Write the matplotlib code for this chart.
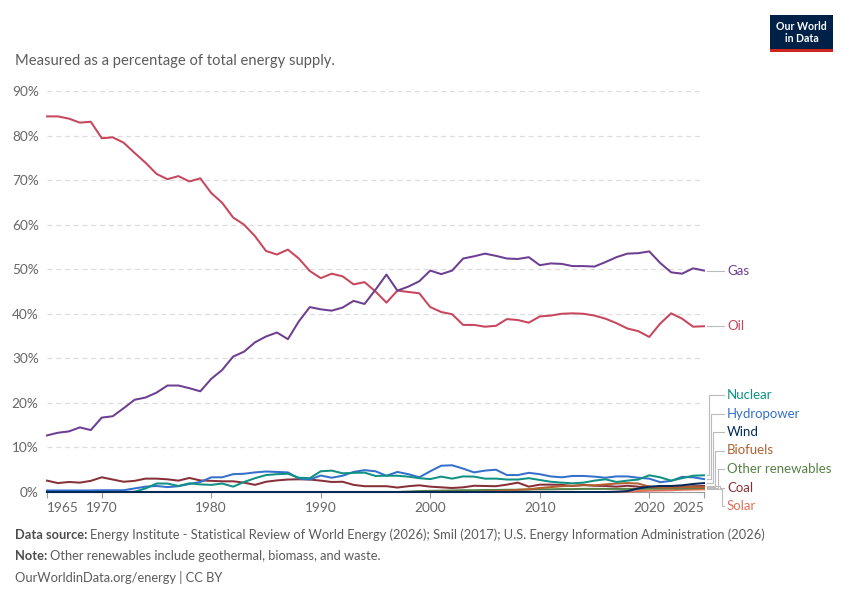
import matplotlib
matplotlib.use("Agg")
import matplotlib.pyplot as plt
from matplotlib.lines import Line2D
from matplotlib.patches import Rectangle

plt.rcParams['font.family'] = ['Lato', 'DejaVu Sans']

years = list(range(1965, 2026))

gas = [12.7, 13.3, 13.6, 14.5, 13.9, 16.7, 17.0, 18.8, 20.7, 21.2,
       22.3, 23.9, 23.9, 23.3, 22.6, 25.4, 27.4, 30.4, 31.5, 33.6,
       34.9, 35.8, 34.3, 38.3, 41.5, 41.0, 40.7, 41.4, 42.9, 42.2,
       45.4, 48.8, 45.2, 46.1, 47.3, 49.7, 48.9, 49.7, 52.4, 52.9,
       53.5, 53.0, 52.4, 52.3, 52.7, 50.9, 51.3, 51.2, 50.7, 50.7,
       50.6, 51.6, 52.7, 53.5, 53.6, 54.0, 51.4, 49.3, 49.0, 50.2, 49.7]

oil = [84.3, 84.3, 83.8, 82.9, 83.1, 79.4, 79.6, 78.4, 76.1, 73.9,
       71.4, 70.2, 70.9, 69.7, 70.4, 67.1, 64.9, 61.6, 60.0, 57.4,
       54.1, 53.3, 54.4, 52.4, 49.6, 48.0, 49.0, 48.4, 46.6, 47.1,
       45.0, 42.5, 45.2, 44.9, 44.6, 41.5, 40.4, 39.9, 37.5, 37.5,
       37.1, 37.3, 38.8, 38.6, 38.0, 39.4, 39.6, 40.0, 40.1, 40.0,
       39.6, 38.9, 37.9, 36.7, 36.1, 34.8, 37.8, 40.1, 38.9, 37.1, 37.2]

nuclear = [0, 0, 0, 0, 0, 0, 0, 0, 0.05, 0.8,
           1.9, 1.9, 1.35, 1.95, 1.7, 1.6, 1.9, 1.2, 2.25, 3.1,
           3.8, 4.0, 4.1, 3.2, 3.1, 4.65, 4.8, 4.2, 4.3, 4.35,
           3.6, 3.65, 3.65, 3.45, 3.1, 2.9, 3.45, 3.0, 3.5, 3.45,
           3.0, 3.0, 2.8, 2.8, 3.1, 2.7, 2.3, 2.1, 1.95, 2.1,
           2.55, 2.85, 2.25, 2.55, 2.8, 3.75, 3.3, 2.55, 3.1, 3.65, 3.75]

hydropower = [0.35, 0.35, 0.35, 0.35, 0.35, 0.4, 0.4, 0.4, 0.8, 1.2,
              1.35, 1.1, 1.3, 1.8, 2.25, 3.3, 3.3, 4.0, 4.1, 4.4,
              4.6, 4.5, 4.4, 3.0, 2.8, 3.7, 3.2, 3.65, 4.5, 4.9,
              4.65, 3.65, 4.5, 4.0, 3.3, 4.65, 5.9, 6.0, 5.25, 4.4,
              4.8, 5.0, 3.8, 3.8, 4.3, 4.0, 3.5, 3.3, 3.6, 3.6,
              3.45, 3.2, 3.5, 3.5, 3.2, 3.0, 2.2, 2.5, 3.4, 3.3, 2.9]

wind = [0] * 52 + [0.05, 0.2, 0.8, 1.2, 1.35, 1.35, 1.5, 1.8, 2.0]

biofuels = [0] * 40 + [0.1, 0.2, 0.3, 0.5, 0.6, 0.9, 1.1, 1.3, 1.4, 1.5,
                       1.5, 1.7, 1.9, 2.0, 1.9, 1.2, 1.0, 1.0, 1.1, 1.1, 1.1]

other_renewables = [0] * 33 + [0.1, 0.2, 0.25, 0.3, 0.35, 0.4, 0.4, 0.45, 0.45, 0.5,
                               0.5, 0.55, 0.6, 0.6, 0.65, 0.65, 0.7, 0.7, 0.7,
                               0.7, 0.7, 0.7, 0.75, 0.75, 0.8, 0.8, 0.85, 0.9]

coal = [2.55, 2.0, 2.25, 2.1, 2.5, 3.3, 2.8, 2.3, 2.5, 3.0,
        3.0, 2.85, 2.55, 3.15, 2.6, 2.5, 2.4, 2.4, 2.1, 1.6,
        2.3, 2.6, 2.8, 2.85, 2.8, 2.55, 2.25, 2.3, 1.6, 1.3,
        1.3, 1.3, 1.0, 1.3, 1.5, 1.2, 1.05, 0.9, 1.05, 1.4,
        1.35, 1.3, 1.65, 2.1, 1.2, 1.65, 1.65, 1.6, 1.35, 1.6,
        1.4, 1.35, 1.2, 1.4, 1.2, 1.0, 1.05, 1.3, 1.2, 1.3, 1.35]

solar = [0] * 52 + [0.05, 0.1, 0.2, 0.3, 0.35, 0.4, 0.5, 0.55, 0.6]

series_names = ["Gas", "Oil", "Nuclear", "Hydropower", "Wind", "Biofuels",
                "Other renewables", "Coal", "Solar"]
series_values = [gas, oil, nuclear, hydropower, wind, biofuels,
                 other_renewables, coal, solar]
series_colors = ["#6D3E91", "#C8465C", "#109184", "#3570CC", "#00295B",
                 "#B0612F", "#578145", "#883039", "#E56E5A"]

x_ticks = [1965, 1970, 1980, 1990, 2000, 2010, 2020, 2025]
y_ticks = [0, 10, 20, 30, 40, 50, 60, 70, 80, 90]

W, H = 850, 600
fig = plt.figure(figsize=(8.5, 6.0), dpi=100)
fig.patch.set_facecolor("white")

x0, x1 = 47, 704
y_top, y_bot = 91, 492
ax = fig.add_axes([x0 / W, 1 - y_bot / H, (x1 - x0) / W, (y_bot - y_top) / H])
ax.set_xlim(1965, 2025)
ax.set_ylim(0, 90)

draw_order = ["Solar", "Coal", "Other renewables", "Biofuels", "Hydropower",
              "Nuclear", "Oil", "Gas", "Wind"]
for name in draw_order:
    i = series_names.index(name)
    ax.plot(years, series_values[i], color=series_colors[i], lw=1.45,
            solid_joinstyle="round", clip_on=False, zorder=3)

ax.set_yticks(y_ticks)
ax.set_yticklabels([f"{v}%" for v in y_ticks])
ax.set_xticks(x_ticks)
ax.set_xticklabels([str(v) for v in x_ticks])
ax.grid(axis="y", color="#dddddd", linestyle=(0, (4, 3)), lw=0.9)
ax.set_axisbelow(True)
for s in ["top", "right", "left"]:
    ax.spines[s].set_visible(False)
ax.spines["bottom"].set_color("#999999")
ax.spines["bottom"].set_linewidth(0.8)
ax.tick_params(axis="y", length=0, pad=6, labelsize=9.8, labelcolor="#666666")
ax.tick_params(axis="x", length=4, width=0.8, color="#999999", pad=3,
               labelsize=9.8, labelcolor="#666666")
xl = ax.get_xticklabels()
xl[0].set_ha("left")
xl[-1].set_ha("right")


def val_to_py(v):
    return y_bot - v / 90 * (y_bot - y_top)

label_x = 727
line_start = 707
line_end = 724
grey = "#bbbbbb"
label_fs = 9.5

for name in ["Gas", "Oil"]:
    i = series_names.index(name)
    py = val_to_py(series_values[i][-1])
    fig.add_artist(Line2D([line_start / W, line_end / W], [1 - py / H, 1 - py / H],
                          color=grey, lw=0.8))
    fig.text(label_x / W, 1 - py / H, name, color=series_colors[i], fontsize=label_fs,
             va="center", ha="left")

small = ["Nuclear", "Hydropower", "Wind", "Biofuels", "Other renewables", "Coal", "Solar"]
label_y0 = 395
label_dy = 18.5
for k, name in enumerate(small):
    i = series_names.index(name)
    py_end = val_to_py(series_values[i][-1])
    py_lab = label_y0 + k * label_dy
    ex = 708.5 + k * 2.3
    xs = [line_start / W, ex / W, ex / W, line_end / W]
    ys = [1 - py_end / H, 1 - py_end / H, 1 - py_lab / H, 1 - py_lab / H]
    fig.add_artist(Line2D(xs, ys, color=grey, lw=0.8))
    fig.text(label_x / W, 1 - py_lab / H, name, color=series_colors[i],
             fontsize=label_fs, va="center", ha="left")

fig.text(15 / W, 1 - 61 / H, "Measured as a percentage of total energy supply.",
         fontsize=10.65, color="#5b5b5b", va="center", ha="left")

fig.add_artist(Rectangle((770 / W, 1 - 50 / H), 63 / W, 35 / H,
                         transform=fig.transFigure, facecolor="#002147",
                         edgecolor="none"))
fig.add_artist(Rectangle((770 / W, 1 - 52 / H), 63 / W, 3 / H,
                         transform=fig.transFigure, facecolor="#CE261E",
                         edgecolor="none"))
fig.text(801.5 / W, 1 - 32.5 / H, "Our World\nin Data", color="white",
         fontsize=7.6, fontweight="bold", ha="center", va="center",
         linespacing=1.0)

renderer = fig.canvas.get_renderer()
foot_col = "#5b5b5b"
foot_fs = 9.3


def two_part(py, bold, rest):
    t = fig.text(15 / W, 1 - py / H, bold, fontsize=foot_fs, fontweight="bold",
                 color="#4d4d4d", va="center", ha="left")
    bb = t.get_window_extent(renderer=renderer)
    fig.text((bb.x1 + 3) / W, 1 - py / H, rest, fontsize=foot_fs, color=foot_col,
             va="center", ha="left")


two_part(535, "Data source:",
         "Energy Institute - Statistical Review of World Energy (2026); Smil (2017); "
         "U.S. Energy Information Administration (2026)")
two_part(556, "Note:", "Other renewables include geothermal, biomass, and waste.")
fig.text(15 / W, 1 - 577 / H, "OurWorldinData.org/energy | CC BY", fontsize=foot_fs,
         color=foot_col, va="center", ha="left")

fig.savefig("out.png", dpi=100, facecolor="white")
